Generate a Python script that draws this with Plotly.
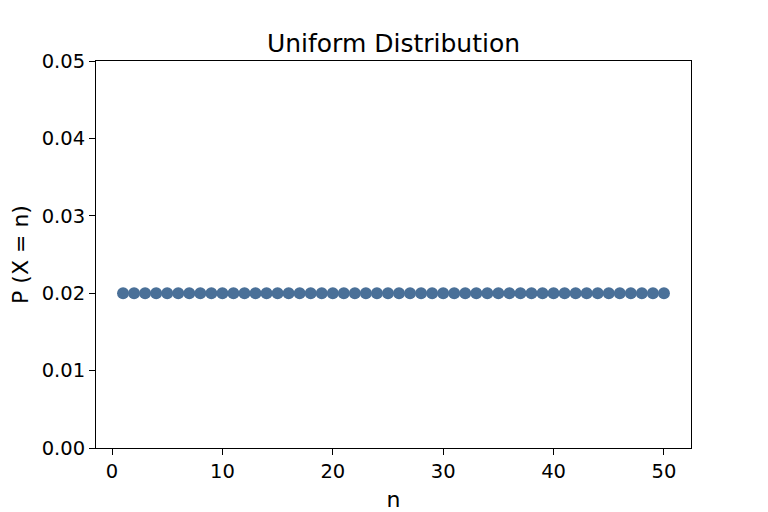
import plotly.graph_objects as go

n_values = list(range(1, 51))
probabilities = [0.02] * 50
x_ticks = [0, 10, 20, 30, 40, 50]
y_ticks = [0.00, 0.01, 0.02, 0.03, 0.04, 0.05]

# page body has an 8px margin, so the plot-area margins are shifted to land on the reference box
fig = go.Figure(go.Scatter(
    x=n_values, y=probabilities, mode="markers",
    marker=dict(color="#4a7098", size=12, line=dict(width=0)),
    showlegend=False,
))

axis_common = dict(
    showgrid=False, zeroline=False, showline=True, linecolor="black", linewidth=1,
    mirror=True, ticks="outside", ticklen=6, tickcolor="black", automargin=False,
    tickfont=dict(family="DejaVu Sans", size=19.5, color="black"),
)

fig.update_xaxes(
    range=[-1.45, 52.45], tickvals=x_ticks,
    title=dict(text="n", font=dict(family="DejaVu Sans", size=22, color="black"), standoff=9),
    **axis_common,
)
fig.update_yaxes(
    range=[0, 0.05], tickvals=y_ticks, tickformat=".2f",
    title=dict(text="P (X = n)", font=dict(family="DejaVu Sans", size=22, color="black"), standoff=10),
    **axis_common,
)

fig.update_layout(
    width=768, height=512,
    margin=dict(l=88, r=85, t=53, b=72),
    plot_bgcolor="white", paper_bgcolor="white",
    title=dict(text="Uniform Distribution", x=(88 + 683) / 2 / 768, xanchor="center",
               y=1 - 35 / 512, yanchor="middle",
               font=dict(family="DejaVu Sans", size=25, color="black")),
)

fig.write_html("out.html")
